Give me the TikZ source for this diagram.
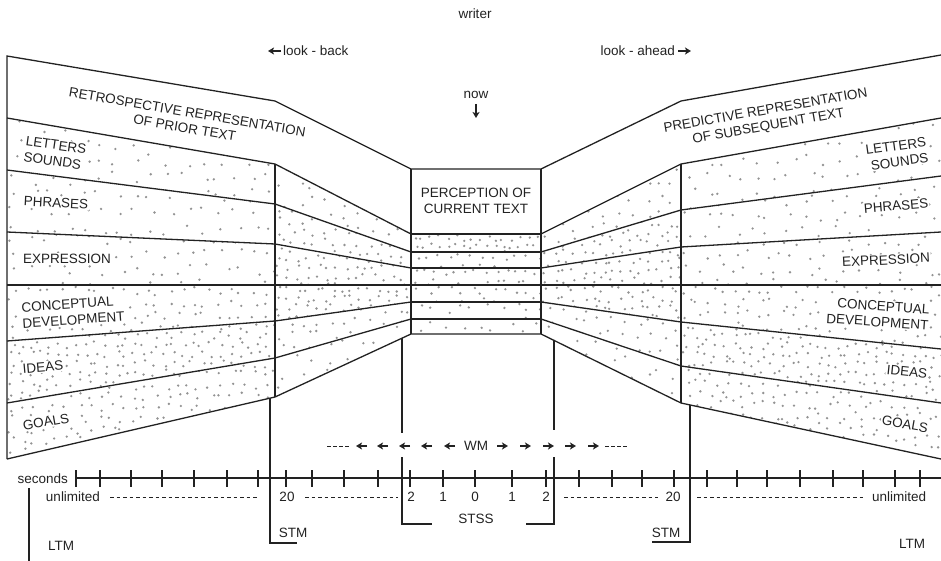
\documentclass[tikz,border=0pt]{standalone}
\usepackage{fontspec}
\setmainfont{Liberation Sans}
\usetikzlibrary{arrows.meta}
\definecolor{ink}{HTML}{222222}
\definecolor{dotc}{HTML}{939393}
% stipple: path, xmin, xmax, ymin, ymax, spacing
\newcommand\stip[6]{%
  \begin{scope}
    \clip #1;
    \pgfmathtruncatemacro\stnx{(#3-#2)/#6}%
    \pgfmathtruncatemacro\stny{(#5-#4)/#6}%
    \foreach \i in {0,...,\stnx}{%
      \foreach \j in {0,...,\stny}{%
        \pgfmathsetmacro\px{#2+(\i+0.5)*#6+(rnd-0.5)*0.75*#6}%
        \pgfmathsetmacro\py{#4+(\j+0.5)*#6+(rnd-0.5)*0.75*#6}%
        \fill[dotc] (\px,\py) circle (1.3pt);
      }%
    }%
  \end{scope}}
\begin{document}
\begin{tikzpicture}[x=1pt,y=-1pt,
  ln/.style={draw=ink,line width=1.3pt,line join=miter},
  lbl/.style={font=\fontsize{13.5}{16}\selectfont,text=ink,inner sep=1pt},
  lblw/.style={lbl,fill=white},
  dsh/.style={draw=ink,line width=0.9pt,dash pattern=on 3.5pt off 3pt},
  arr/.style={draw=ink,line width=1.2pt,-{Stealth[length=6pt,width=7pt,inset=1.5pt]}},
]
\useasboundingbox (0,0) rectangle (941,561);
\pgfmathsetseed{4711}
% ---------- stipple ----------
\stip{(7,118)--(275,164)--(275,204)--(7,170)--cycle}{7}{275}{118}{204}{17}
\stip{(7,170)--(275,204)--(275,244)--(7,232)--cycle}{7}{275}{170}{244}{17}
\stip{(7,232)--(275,244)--(275,285)--(7,285)--cycle}{7}{275}{232}{285}{15}
\stip{(7,285)--(275,285)--(275,321)--(7,341)--cycle}{7}{275}{285}{341}{12}
\stip{(7,341)--(275,321)--(275,358)--(7,403)--cycle}{7}{275}{321}{403}{9.5}
\stip{(7,403)--(275,358)--(275,397)--(7,459)--cycle}{7}{275}{358}{459}{11}
\stip{(275,164)--(411,234)--(411,252)--(275,204)--cycle}{275}{411}{164}{252}{15}
\stip{(275,204)--(411,252)--(411,268)--(275,244)--cycle}{275}{411}{204}{268}{11}
\stip{(275,244)--(411,268)--(411,285)--(275,285)--cycle}{275}{411}{244}{285}{9.5}
\stip{(275,285)--(411,285)--(411,302)--(275,321)--cycle}{275}{411}{285}{321}{9}
\stip{(275,321)--(411,302)--(411,319)--(275,358)--cycle}{275}{411}{302}{358}{13}
\stip{(275,358)--(411,319)--(411,334)--(275,397)--cycle}{275}{411}{319}{397}{16}
\stip{(411,234) rectangle (541,252)}{411}{541}{234}{252}{8}
\stip{(411,252) rectangle (541,268)}{411}{541}{252}{268}{11}
\stip{(411,268) rectangle (541,285)}{411}{541}{268}{285}{10}
\stip{(411,285) rectangle (541,302)}{411}{541}{285}{302}{11}
\stip{(411,302) rectangle (541,319)}{411}{541}{302}{319}{14}
\stip{(411,319) rectangle (541,334)}{411}{541}{319}{334}{15}
\stip{(541,234)--(681,164)--(681,210)--(541,252)--cycle}{541}{681}{164}{252}{14}
\stip{(541,252)--(681,210)--(681,247)--(541,268)--cycle}{541}{681}{210}{268}{9.5}
\stip{(541,268)--(681,247)--(681,285)--(541,285)--cycle}{541}{681}{247}{285}{9.5}
\stip{(541,285)--(681,285)--(681,322)--(541,302)--cycle}{541}{681}{285}{322}{9.5}
\stip{(541,302)--(681,322)--(681,366)--(541,319)--cycle}{541}{681}{302}{366}{13}
\stip{(541,319)--(681,366)--(681,403)--(541,334)--cycle}{541}{681}{319}{403}{16}
\stip{(681,164)--(941,118)--(941,176)--(681,210)--cycle}{681}{941}{118}{210}{17}
\stip{(681,210)--(941,176)--(941,232)--(681,247)--cycle}{681}{941}{176}{247}{16}
\stip{(681,247)--(941,232)--(941,285)--(681,285)--cycle}{681}{941}{232}{285}{15}
\stip{(681,285)--(941,285)--(941,349)--(681,322)--cycle}{681}{941}{285}{349}{12}
\stip{(681,322)--(941,349)--(941,403)--(681,366)--cycle}{681}{941}{322}{403}{9.5}
\stip{(681,366)--(941,403)--(941,459)--(681,403)--cycle}{681}{941}{366}{459}{11}
% ---------- key coordinates ----------
\coordinate (lt) at (7,56);   \coordinate (lb) at (7,459);
\coordinate (lit) at (275,101); \coordinate (lib) at (275,397);
\coordinate (ctl) at (411,169); \coordinate (ctr) at (541,169);
\coordinate (cbl) at (411,334); \coordinate (cbr) at (541,334);
\coordinate (rit) at (681,101); \coordinate (rib) at (681,403);
\coordinate (rt) at (941,55);  \coordinate (rb) at (941,459);
% ---------- outlines ----------
\draw[ln] (lb) -- (lt) -- (lit) -- (ctl) -- (ctr) -- (rit) -- (rt);
\draw[ln] (lb) -- (lib) -- (cbl) -- (cbr) -- (rib) -- (rb);
\draw[ln] (ctl) -- (cbl); \draw[ln] (ctr) -- (cbr);
\draw[ln] (275,164) -- (lib);
\draw[ln] (681,164) -- (rib);
% left layer lines
\draw[ln] (7,118)--(275,164)--(411,234);
\draw[ln] (7,170)--(275,204)--(411,252);
\draw[ln] (7,232)--(275,244)--(411,268);
\draw[ln] (7,285)--(411,285);
\draw[ln] (7,341)--(275,321)--(411,302);
\draw[ln] (7,403)--(275,358)--(411,319);
% centre strips
\foreach \yy in {234,252,268,285,302,319}{\draw[ln] (411,\yy)--(541,\yy);}
% right layer lines
\draw[ln] (541,234)--(681,164)--(941,118);
\draw[ln] (541,252)--(681,210)--(941,176);
\draw[ln] (541,268)--(681,247)--(941,232);
\draw[ln] (541,285)--(941,285);
\draw[ln] (541,302)--(681,322)--(941,349);
\draw[ln] (541,319)--(681,366)--(941,403);
% ---------- brackets ----------
\draw[ln] (270,398)--(270,543)--(297,543);
\draw[ln] (402,338)--(402,433);
\draw[ln] (402,457)--(402,524)--(432,524);
\draw[ln] (554,340)--(554,430);
\draw[ln] (554,457)--(554,524)--(526,524);
\draw[ln] (690,405)--(690,542)--(652,542);
\draw[ln] (29,488)--(29,561);
% ---------- axis ----------
\draw[ln] (76,478)--(941,478);
\foreach \tx in {76,100,131,162,194,227,258,286,312,344,378,410,443,475,512,546,579,612,642,674,707,737,767,800,833,863,895,920}
  {\draw[ln] (\tx,470)--(\tx,487);}
\node[lbl,anchor=east] (sec) at (69,479) {seconds};
\node[lbl] (ul) at (73,497) {unlimited};
\node[lbl] (t20l) at (287,497) {20};
\node[lbl] (t2l) at (411,497) {2};
\node[lbl] (t1l) at (443,497) {1};
\node[lbl] (t0) at (475,497) {0};
\node[lbl] (t1r) at (512,497) {1};
\node[lbl] (t2r) at (546,497) {2};
\node[lbl] (t20r) at (673,497) {20};
\node[lbl] (ur) at (899,497) {unlimited};
\draw[dsh] (110,497)--(258,497);
\draw[dsh] (305,497)--(398,497);
\draw[dsh] (564,497)--(658,497);
\draw[dsh] (697,497)--(863,497);
\node[lbl] (stss) at (476,519) {STSS};
\node[lbl] (stml) at (293,533) {STM};
\node[lbl] (stmr) at (666,533) {STM};
\node[lbl] (ltml) at (61,546) {LTM};
\node[lbl] (ltmr) at (912,544) {LTM};
% ---------- WM row ----------
\node[lbl] (wm) at (476,446) {WM};
\draw[dsh,dash pattern=on 3.5pt off 2.5pt] (327,446)--(350,446);
\draw[dsh,dash pattern=on 3.5pt off 2.5pt] (605,446)--(628,446);
\foreach \ax in {362,383,405,427,450}{\draw[arr] (\ax+5,446)--(\ax-6,446);}
\foreach \ax in {502,525,548,570,593}{\draw[arr] (\ax-5,446)--(\ax+6,446);}
% ---------- top texts ----------
\node[lbl] (writer) at (475,14) {writer};
\node[lbl,anchor=west] (lback) at (282,51) {look - back};
\draw[arr] (281,51)--(268,51);
\node[lbl,anchor=east] (lahead) at (676,51) {look - ahead};
\draw[arr] (678,51)--(691,51);
\node[lbl] (now) at (476,95) {now};
\draw[arr] (476,104)--(476,118);
\node[lbl,align=center] (perc) at (476,201) {PERCEPTION OF\\CURRENT TEXT};
\node[lbl,align=center,rotate=-9.6] (retro) at (186,120) {RETROSPECTIVE REPRESENTATION\\OF PRIOR TEXT};
\node[lbl,align=center,rotate=10] (pred) at (767,119) {PREDICTIVE REPRESENTATION\\OF SUBSEQUENT TEXT};
% ---------- layer labels ----------
\node[lblw,align=left,rotate=-8] (lls) at (55,153) {LETTERS\\SOUNDS};
\node[lblw,rotate=-3] (lph) at (56,203) {PHRASES};
\node[lblw] (lex) at (67,259) {EXPRESSION};
\node[lblw,align=left,rotate=4] (lcd) at (73,312) {CONCEPTUAL\\DEVELOPMENT};
\node[lblw,rotate=5] (lid) at (43,367) {IDEAS};
\node[lblw,rotate=10] (lgo) at (46,422) {GOALS};
\node[lblw,align=right,rotate=8] (rls) at (897,154) {LETTERS\\SOUNDS};
\node[lblw,rotate=5] (rph) at (896,206) {PHRASES};
\node[lblw,rotate=3] (rex) at (886,260) {EXPRESSION};
\node[lblw,align=right,rotate=-4] (rcd) at (878,314) {CONCEPTUAL\\DEVELOPMENT};
\node[lblw,rotate=-6] (rid) at (907,372) {IDEAS};
\node[lblw,rotate=-10] (rgo) at (905,424) {GOALS};
\end{tikzpicture}
\end{document}
